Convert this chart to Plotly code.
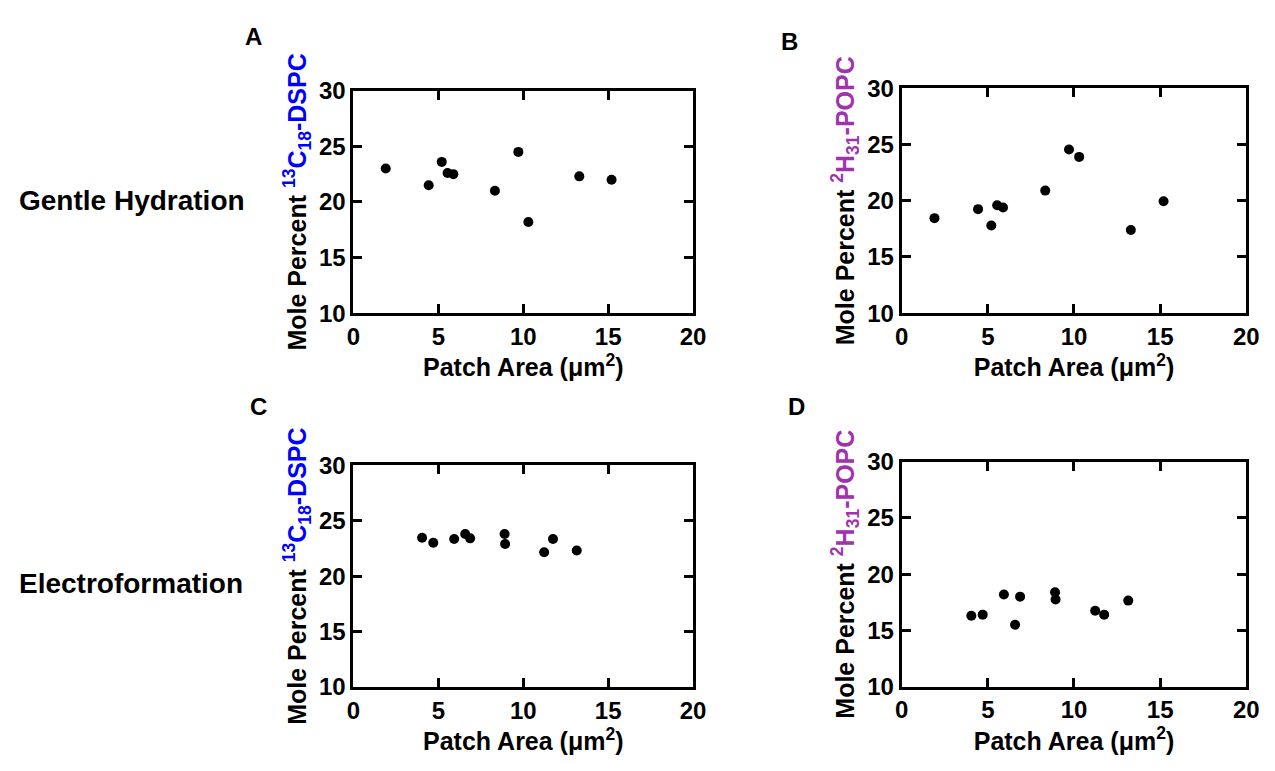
import plotly.graph_objects as go

# ---- data ----
x_gentle = [1.9, 4.43, 5.2, 5.54, 5.88, 8.33, 9.71, 10.3, 13.3, 15.2]
y_dspc_gentle = [23.0, 21.5, 23.6, 22.6, 22.5, 21.0, 24.5, 18.2, 22.3, 22.0]
y_popc_gentle = [18.45, 19.25, 17.8, 19.6, 19.4, 20.9, 24.55, 23.9, 17.4, 19.95]

x_electro = [4.04, 4.7, 5.93, 6.58, 6.87, 8.9, 8.93, 11.23, 11.75, 13.15]
y_dspc_electro = [23.45, 23.0, 23.35, 23.8, 23.4, 23.8, 22.9, 22.15, 23.35, 22.3]
y_popc_electro = [16.3, 16.4, 18.2, 15.5, 18.0, 18.4, 17.75, 16.75, 16.4, 17.65]

x_ticks = [0, 5, 10, 15, 20]
y_ticks = [10, 15, 20, 25, 30]
panel_letters = ["A", "B", "C", "D"]
row_labels = ["Gentle Hydration", "Electroformation"]

BLUE = "#0000FF"
PURPLE = "#A032AE"
FONT = "Liberation Sans, Arial, sans-serif"

dspc_title = ("<b>Mole Percent <span style='color:%s'><sup>13</sup>C<sub>18</sub>-DSPC</span></b>" % BLUE)
popc_title = ("<b>Mole Percent <span style='color:%s'><sup>2</sup>H<sub>31</sub>-POPC</span></b>" % PURPLE)
x_title = "<b>Patch Area (μm<sup>2</sup>)</b>"

W, H = 1275, 771
panels = [
    # (x, y, ytitle, xdom px, ytop px, ybot px)
    (x_gentle, y_dspc_gentle, dspc_title, (352, 697), 79.5, 310),
    (x_gentle, y_popc_gentle, popc_title, (909, 1259), 77, 310),
    (x_electro, y_dspc_electro, dspc_title, (352, 697), 467.5, 697.5),
    (x_electro, y_popc_electro, popc_title, (909, 1259), 464, 697),
]

fig = go.Figure()
layout = dict(
    width=W, height=H,
    margin=dict(l=0, r=0, t=0, b=0),
    paper_bgcolor="white", plot_bgcolor="white",
    showlegend=False,
    font=dict(family=FONT, color="black"),
)

for i, (xs, ys, ytitle, (x0, x1), yt, yb) in enumerate(panels):
    n = "" if i == 0 else str(i + 1)
    fig.add_trace(go.Scatter(
        x=xs, y=ys, mode="markers",
        marker=dict(color="black", size=10),
        xaxis="x" + n, yaxis="y" + n,
    ))
    axis_common = dict(
        showline=True, linecolor="black", linewidth=3, mirror="ticks",
        ticks="inside", ticklen=9, tickwidth=3, tickcolor="black",
        showgrid=False, zeroline=False,
        tickfont=dict(family=FONT, size=24, color="black", weight="bold"),
    )
    layout["xaxis" + n] = dict(
        axis_common,
        domain=[x0 / W, x1 / W], range=[0, 20], tickvals=x_ticks,
        ticktext=["<b>%d</b>" % v for v in x_ticks],
        anchor="y" + n,
        title=dict(text=x_title, font=dict(family=FONT, size=25, color="black"), standoff=10),
    )
    layout["yaxis" + n] = dict(
        axis_common,
        domain=[1 - yb / H, 1 - yt / H], range=[10, 30], tickvals=y_ticks,
        ticktext=["<b>%d</b>" % v for v in y_ticks],
        anchor="x" + n,
        title=dict(text=ytitle, font=dict(family=FONT, size=25, color="black"), standoff=6),
    )

letter_pos = [(250, 23), (795, 28), (255, 407), (802, 407)]
annotations = []
for letter, (px, py) in zip(panel_letters, letter_pos):
    annotations.append(dict(
        text="<b>%s</b>" % letter, x=px / W, y=1 - py / H, xref="paper", yref="paper",
        showarrow=False, xanchor="center", yanchor="middle",
        font=dict(family=FONT, size=24, color="black"),
    ))
for label, py in zip(row_labels, [193, 590]):
    annotations.append(dict(
        text="<b>%s</b>" % label, x=10 / W, y=1 - py / H, xref="paper", yref="paper",
        showarrow=False, xanchor="left", yanchor="middle",
        font=dict(family=FONT, size=28, color="black"),
    ))
layout["annotations"] = annotations

fig.update_layout(**layout)
fig.write_html("out.html")
